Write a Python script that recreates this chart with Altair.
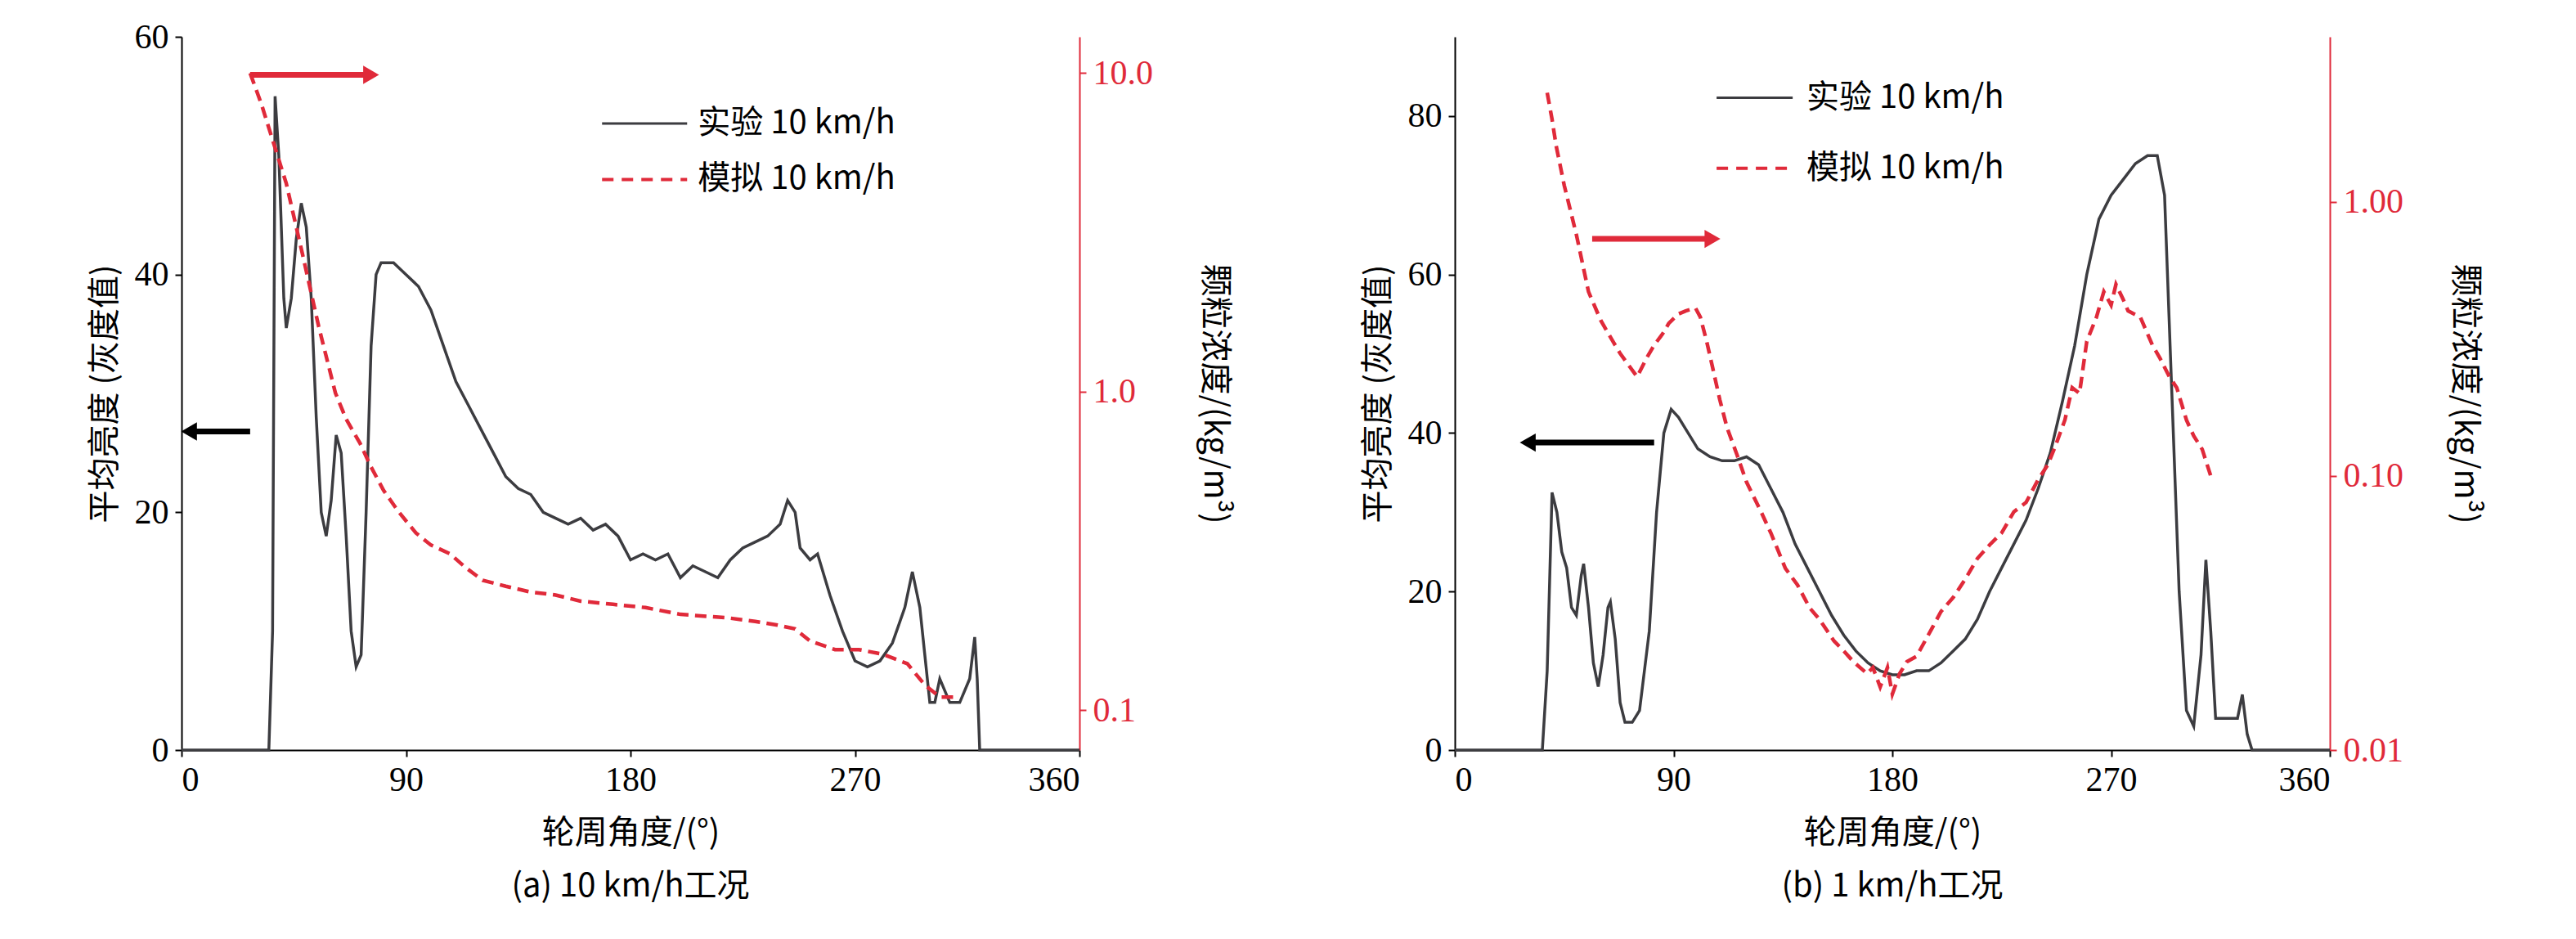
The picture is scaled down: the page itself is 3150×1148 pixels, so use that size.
import altair as alt
import pandas as pd

FONT = "Liberation Serif"
CJK = "Noto Sans CJK SC"
GRAY = "#3c3c40"
RED = "#e02a3a"

# panel (a) 10 km/h
a_exp_angle = [0, 35, 36.5, 37.5, 39, 41, 42, 44, 46, 48, 50, 52, 54, 56, 58, 60, 62, 64, 66, 68, 70, 72, 74, 76, 78, 80, 85, 90, 95, 100,
               105, 110, 115, 120, 125, 130, 135, 140, 145, 150, 155, 160, 165, 170, 175, 180, 185, 190, 195, 200, 205, 210, 215, 220,
               225, 230, 235, 240, 243, 246, 248, 252, 255, 260, 265, 270, 275, 280, 285, 290, 293, 296, 298, 300, 302, 304, 306, 308,
               312, 316, 318, 319, 320, 360]
a_exp_val = [0, 0, 10, 55, 50, 38, 35.5, 38, 43, 46, 44, 38, 28, 20, 18, 21, 26.5, 25, 18, 10, 7, 8, 20, 34, 40, 41, 41, 40, 39, 37,
             34, 31, 29, 27, 25, 23, 22, 21.5, 20, 19.5, 19, 19.5, 18.5, 19, 18, 16, 16.5, 16, 16.5, 14.5, 15.5, 15, 14.5, 16,
             17, 17.5, 18, 19, 21, 20, 17, 16, 16.5, 13, 10, 7.5, 7, 7.5, 9, 12, 15, 12, 8, 4, 4, 6, 5, 4,
             4, 6, 9.5, 6, 0, 0]
a_sim_angle = [27.5, 32, 36.7, 42, 48.5, 55, 61.7, 66, 71.5, 76, 81, 87, 94, 100, 107.6, 114, 120.7, 130, 140, 150, 160, 173, 186,
               200, 219, 230, 239, 246, 252, 262, 271.6, 281, 291, 298, 304, 311]
a_sim_val = [10, 8, 6.1, 4.5, 2.7, 1.6, 0.99, 0.82, 0.69, 0.58, 0.49, 0.42, 0.36, 0.33, 0.31, 0.28, 0.256, 0.245, 0.235, 0.23, 0.22,
             0.215, 0.21, 0.2, 0.195, 0.19, 0.185, 0.18, 0.165, 0.155, 0.155, 0.15, 0.14, 0.12, 0.11, 0.11]

# panel (b) 1 km/h
b_exp_angle = [0, 36, 38, 40, 42, 44, 46, 48, 50, 52, 53, 55, 57, 59, 61, 63, 64, 66, 68, 70, 73, 76, 80, 83, 86, 89, 92, 95, 100,
               105, 110, 115, 120, 125, 130, 135, 140, 145, 150, 155, 160, 165, 170, 175, 180, 185, 190, 195, 200, 205, 210, 215,
               220, 225, 230, 235, 240, 245, 250, 255, 260, 265, 270, 275, 280, 285, 289, 292, 295, 298, 301, 304, 307, 309, 311,
               313, 316, 322, 324, 326, 328, 360]
b_exp_val = [0, 0, 10, 32.5, 30, 25, 23, 18, 17, 22, 23.5, 18, 11, 8, 12, 18, 18.7, 14, 6, 3.5, 3.5, 5, 15, 30, 40, 43, 42, 40.5, 38,
             37, 36.5, 36.5, 37, 36, 33, 30, 26, 23, 20, 17, 14.5, 12.5, 11, 10, 9.5, 9.5, 10, 10, 11, 12.5, 14, 16.5,
             20, 23, 26, 29, 33, 37.5, 44, 51, 60, 67, 70, 72, 74, 75, 75, 70, 45, 20, 5, 3, 12, 24, 15,
             4, 4, 4, 7, 2, 0, 0]
b_sim_angle = [38, 40, 41.7, 45, 50, 55, 60, 65, 68, 72, 75, 79, 82, 85.5, 88, 92, 95, 99, 101, 103.6, 106, 109, 112, 116, 120, 126,
               130, 136, 141, 146, 150, 156, 160, 164, 169.6, 172, 175, 178, 180, 183, 186, 190, 196.5, 200, 205, 210, 215, 220,
               225, 230, 235, 240, 244, 247, 251, 254, 257, 260, 264, 267, 270, 272, 275, 277, 282, 287, 290, 294, 297, 301, 304,
               307.5, 311]
b_sim_val = [2.5, 2.0, 1.6, 1.15, 0.76, 0.47, 0.37, 0.31, 0.28, 0.25, 0.23, 0.27, 0.3, 0.33, 0.36, 0.39, 0.4, 0.41, 0.38, 0.31, 0.25,
             0.19, 0.15, 0.12, 0.095, 0.074, 0.062, 0.046, 0.04, 0.033, 0.03, 0.025, 0.023, 0.021, 0.019, 0.02, 0.017, 0.02, 0.016,
             0.019, 0.021, 0.022, 0.028, 0.032, 0.036, 0.042, 0.05, 0.056, 0.062, 0.074, 0.08, 0.097, 0.11, 0.128, 0.16, 0.21, 0.2,
             0.31, 0.38, 0.47, 0.42, 0.5, 0.44, 0.4, 0.38, 0.3, 0.27, 0.23, 0.21, 0.16, 0.14, 0.125, 0.10]

AXIS = dict(labelFont=FONT, labelFontSize=42, titleFontSize=40, titleFontWeight="normal",
            grid=False, domainColor="black", tickColor="black", labelColor="black", titleColor="black",
            domainWidth=2, tickWidth=2, tickSize=8, labelPadding=8, titleFont=CJK)


def ax(**kw):
    d = dict(AXIS)
    d.update(kw)
    return alt.Axis(**d)


def panel(exp_a, exp_v, sim_a, sim_v, ymax, yticks, logdom, logticks, logfmt, leg, red_arrow, black_arrow, sub, w):
    exp = pd.DataFrame({"angle": exp_a, "v": exp_v})
    sim = pd.DataFrame({"angle": sim_a, "c": sim_v})
    xs = alt.Scale(domain=[0, 360], nice=False)
    x = alt.X("angle:Q", scale=xs, axis=ax(values=[0, 90, 180, 270, 360], title="轮周角度/(°)", titlePadding=24))
    yl = alt.Scale(domain=[0, ymax], nice=False)
    left = alt.Chart(exp).mark_line(color=GRAY, strokeWidth=3.5).encode(
        x=x, y=alt.Y("v:Q", scale=yl, axis=ax(values=yticks, title="平均亮度 (灰度值)", titlePadding=16)))
    right = alt.Chart(sim).mark_line(color=RED, strokeWidth=4.5, strokeDash=[14, 8]).encode(
        x=x,
        y=alt.Y("c:Q", scale=alt.Scale(type="log", domain=logdom, nice=False),
                axis=ax(orient="right", values=logticks, format=logfmt, title="颗粒浓度/(kg/m³)", titlePadding=55,
                        labelColor=RED, domainColor=RED, tickColor=RED)))
    # legend (data coordinates)
    lx0, lx1, ly1, ly2, tx = leg
    legl = pd.DataFrame({"x": [lx0, lx0], "x2": [lx1, lx1], "y": [ly1, ly2], "k": ["e", "s"],
                         "t": ["实验 10 km/h", "模拟 10 km/h"], "tx": [tx, tx]})
    leg1 = alt.Chart(legl[legl.k == "e"]).mark_rule(color=GRAY, strokeWidth=3).encode(
        x=alt.X("x:Q", scale=xs), x2="x2:Q", y=alt.Y("y:Q", scale=yl))
    leg2 = alt.Chart(legl[legl.k == "s"]).mark_rule(color=RED, strokeWidth=4, strokeDash=[14, 10]).encode(
        x=alt.X("x:Q", scale=xs), x2="x2:Q", y=alt.Y("y:Q", scale=yl))
    legt = alt.Chart(legl).mark_text(align="left", baseline="middle", font=CJK, fontSize=40,
                                     color="black").encode(x="tx:Q", y=alt.Y("y:Q", scale=yl), text="t:N")
    arrows = []
    for (xa, xb, yv), col, shape in [(red_arrow, RED, "triangle-right"), (black_arrow, "black", "triangle-left")]:
        d = pd.DataFrame({"x": [xa], "x2": [xb], "y": [yv]})
        arrows.append(alt.Chart(d).mark_rule(color=col, strokeWidth=7).encode(
            x=alt.X("x:Q", scale=xs), x2="x2:Q", y=alt.Y("y:Q", scale=yl)))
        arrows.append(alt.Chart(d).mark_point(shape=shape, filled=True, color=col, opacity=1, size=500).encode(
            x="x2:Q", y=alt.Y("y:Q", scale=yl)))
    base = alt.layer(left, leg1, leg2, legt, *arrows)
    return alt.layer(base, right).resolve_scale(y="independent").properties(
        width=w, height=872,
        title=alt.TitleParams(sub, orient="bottom", font=CJK, fontSize=40, fontWeight="normal", offset=26))


pa = panel(a_exp_angle, a_exp_val, a_sim_angle, a_sim_val, 60, [0, 20, 40, 60], [0.075, 13], [0.1, 1, 10], ".1f",
           (168.6, 202.7, 52.7, 48, 207), (27.5, 76, 56.8), (27.5, 3, 26.8), "(a) 10 km/h工况", 1098)
pb = panel(b_exp_angle, b_exp_val, b_sim_angle, b_sim_val, 90, [0, 20, 40, 60, 80], [0.01, 4], [0.01, 0.1, 1], ".2f",
           (107.7, 139, 82.3, 73.4, 144.7), (56.5, 106, 64.5), (82, 30, 38.8), "(b) 1 km/h工况", 1070)

chart = alt.hconcat(pa, pb, spacing=160).configure_view(stroke=None).properties(
    padding={"left": 100, "top": 16, "right": 10, "bottom": 5})
chart.save("out.html", embed_options={"renderer": "svg", "actions": False})
